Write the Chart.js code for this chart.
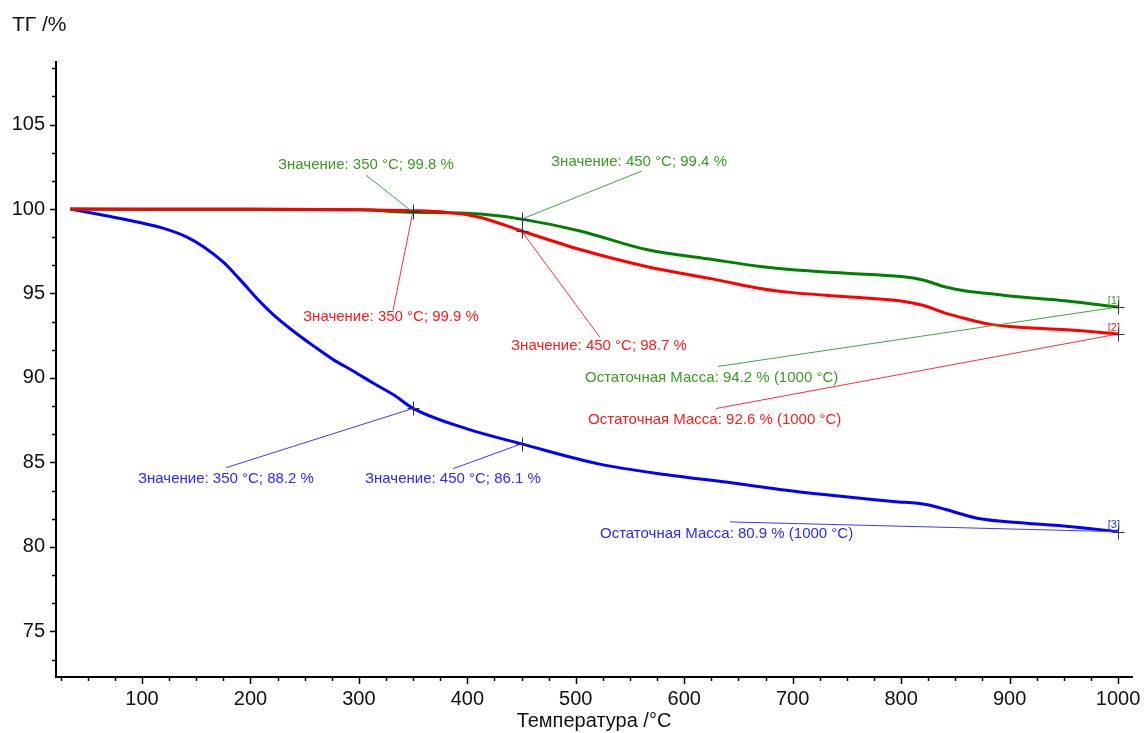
<!DOCTYPE html>
<html lang="ru">
<head>
<meta charset="utf-8">
<title>ТГ /%</title>
<script src="https://cdn.jsdelivr.net/npm/chart.js@4.4.1/dist/chart.umd.min.js"></script>
<style>
    html, body { margin: 0; padding: 0; background: #fff; }
    canvas { display: block; }
</style>
</head>
<body>
<canvas id="tgChart" width="1145" height="733"></canvas>
<script>
// TG curves: temperature (°C) and remaining mass (%) for each sample
const tempGreen = [34, 100, 200, 300, 350, 380, 412, 450, 504, 565, 627, 670, 700, 750, 800, 820, 840, 860, 880, 900, 953, 1000];
const massGreen = [100, 99.97, 99.97, 99.95, 99.8, 99.78, 99.7, 99.4, 98.7, 97.6, 97.0, 96.6, 96.4, 96.2, 96.0, 95.8, 95.4, 95.15, 95.0, 94.85, 94.56, 94.2];

const tempRed = [34, 100, 200, 300, 350, 381, 412, 450, 504, 565, 627, 670, 700, 750, 800, 820, 840, 860, 880, 900, 953, 1000];
const massRed = [100, 100, 100, 99.95, 99.9, 99.8, 99.5, 98.7, 97.6, 96.6, 95.85, 95.3, 95.05, 94.8, 94.55, 94.3, 93.85, 93.5, 93.2, 93.05, 92.85, 92.6];

const tempBlue = [34, 67, 98, 120, 141, 157, 175, 190, 206, 221, 240, 258, 276, 295, 313, 332, 350, 399, 450, 522, 584, 645, 688, 731, 793, 824, 842, 870, 916, 962, 1000];
const massBlue = [100, 99.6, 99.2, 98.85, 98.35, 97.75, 96.85, 95.85, 94.7, 93.75, 92.75, 91.9, 91.1, 90.4, 89.7, 89.0, 88.2, 87.0, 86.1, 84.9, 84.27, 83.78, 83.4, 83.08, 82.69, 82.5, 82.2, 81.7, 81.4, 81.17, 80.9];

// marked points: 350 °C, 450 °C and residual mass at 1000 °C
const markTemps = [350, 450, 1000];
const markGreen = [99.8, 99.4, 94.2];
const markRed = [99.9, 98.7, 92.6];
const markBlue = [88.2, 86.1, 80.9];

// axis ticks
const xTicks = [];
for (let t = 25; t <= 1000; t += 25) xTicks.push(t);
const xLabels = [100, 200, 300, 400, 500, 600, 700, 800, 900, 1000];
const yTicks = [];
for (let k = 44; k <= 65; k++) yTicks.push(+(k * 5 / 3).toFixed(3));
const yLabels = [75, 80, 85, 90, 95, 100, 105];

const FONT = '"Liberation Sans", Arial, sans-serif';

// where each note sits: [text x, text y, leader x, leader y] in axis units
const series = [
    {
        marks: markGreen, tag: '[1]', line: '#008000', text: '#3b9a22', leader: '#3fa53f',
        place: [[225.4, 102.6, 306.6, 102.0], [477.2, 102.8, 561, 102.25], [508.5, 90.03, 631.2, 90.68]]
    },
    {
        marks: markRed, tag: '[2]', line: '#ff0000', text: '#ff1a1a', leader: '#ff3030',
        place: [[248.5, 93.6, 331.5, 94.0], [440.3, 91.87, 522.3, 92.4], [511.3, 87.54, 629.3, 88.19]]
    },
    {
        marks: markBlue, tag: '[3]', line: '#0000ff', text: '#2a2aff', leader: '#3a3aff',
        place: [[96.3, 84.04, 177.5, 84.69], [305.6, 84.04, 386.8, 84.63], [522.3, 80.77, 642.2, 81.48]]
    }
];

function noteText(i, v) {
    if (markTemps[i] === 1000) return 'Остаточная Масса: ' + v.toFixed(1) + ' % (1000 °C)';
    return 'Значение: ' + markTemps[i] + ' °C; ' + v.toFixed(1) + ' %';
}

function toPoints(xs, ys) {
    return xs.map((x, i) => ({ x: x, y: ys[i] }));
}

// notes, leader lines, crosses and tick marks
const notesPlugin = {
    id: 'notes',
    afterDatasetsDraw(chart) {
        const ctx = chart.ctx;
        const xs = chart.scales.x;
        const ys = chart.scales.y;
        ctx.save();
        ctx.textBaseline = 'middle';
        series.forEach(s => {
            s.marks.forEach((v, i) => {
                const px = xs.getPixelForValue(markTemps[i]);
                const py = ys.getPixelForValue(v);
                const p = s.place[i];
                ctx.strokeStyle = s.leader;
                ctx.lineWidth = 1;
                ctx.beginPath();
                ctx.moveTo(xs.getPixelForValue(p[2]), ys.getPixelForValue(p[3]));
                ctx.lineTo(px, py);
                ctx.stroke();
                ctx.font = '15px ' + FONT;
                ctx.fillStyle = s.text;
                ctx.textAlign = 'left';
                ctx.textBaseline = 'middle';
                ctx.fillText(noteText(i, v), xs.getPixelForValue(p[0]), ys.getPixelForValue(p[1]));
            });
            // sample number next to the last point
            const ex = xs.getPixelForValue(markTemps[2]);
            const ey = ys.getPixelForValue(s.marks[2]);
            ctx.font = '11px ' + FONT;
            ctx.textAlign = 'right';
            ctx.textBaseline = 'bottom';
            ctx.fillStyle = s.text;
            ctx.fillText(s.tag, ex + 2, ey - 1);
        });
        // crosses on marked points
        ctx.strokeStyle = '#333';
        ctx.lineWidth = 1;
        series.forEach(s => {
            s.marks.forEach((v, i) => {
                const px = Math.round(xs.getPixelForValue(markTemps[i])) + 0.5;
                const py = Math.round(ys.getPixelForValue(v)) + 0.5;
                ctx.beginPath();
                ctx.moveTo(px - 6, py);
                ctx.lineTo(px + 6, py);
                ctx.moveTo(px, py - 7);
                ctx.lineTo(px, py + 7);
                ctx.stroke();
            });
        });
        ctx.restore();
    },
    afterDraw(chart) {
        const ctx = chart.ctx;
        const xs = chart.scales.x;
        const ys = chart.scales.y;
        const area = chart.chartArea;
        ctx.save();
        ctx.strokeStyle = '#000';
        ctx.lineWidth = 1.5;
        ctx.beginPath();
        xTicks.forEach(t => {
            const px = Math.round(xs.getPixelForValue(t)) + 0.5;
            const len = t % 100 === 0 ? 7 : 4;
            ctx.moveTo(px, area.bottom);
            ctx.lineTo(px, area.bottom + len);
        });
        yTicks.forEach(t => {
            const py = Math.round(ys.getPixelForValue(t)) + 0.5;
            if (py < area.top || py > area.bottom) return;
            const major = Math.abs(t / 5 - Math.round(t / 5)) < 1e-6;
            ctx.moveTo(area.left, py);
            ctx.lineTo(area.left - (major ? 6 : 4), py);
        });
        ctx.stroke();
        // axis name at the top left
        ctx.fillStyle = '#111';
        ctx.font = '21px ' + FONT;
        ctx.textAlign = 'left';
        ctx.textBaseline = 'middle';
        ctx.fillText('ТГ /%', 12, 25);
        ctx.restore();
    }
};

const ctx = document.getElementById('tgChart').getContext('2d');
new Chart(ctx, {
    type: 'line',
    data: {
        datasets: [
            { data: toPoints(tempGreen, massGreen), borderColor: '#008000', order: 1 },
            { data: toPoints(tempRed, massRed), borderColor: '#ff0000', order: 0 },
            { data: toPoints(tempBlue, massBlue), borderColor: '#0000ff', order: 2 }
        ]
    },
    options: {
        responsive: false,
        animation: false,
        layout: { padding: { top: 62, right: 13, left: 0, bottom: 0 } },
        elements: {
            line: { borderWidth: 3, cubicInterpolationMode: 'monotone', fill: false },
            point: { radius: 0 }
        },
        plugins: {
            legend: { display: false },
            tooltip: { enabled: false }
        },
        scales: {
            x: {
                type: 'linear',
                min: 20.7,
                max: 1012.9,
                grid: { display: false },
                border: { display: true, color: '#000', width: 2 },
                afterBuildTicks: scale => { scale.ticks = xLabels.map(v => ({ value: v })); },
                afterFit: scale => {
                    scale.height = 56;
                    scale.paddingLeft = 0;
                    scale.paddingRight = 0;
                },
                ticks: {
                    autoSkip: false,
                    maxRotation: 0,
                    padding: 2,
                    color: '#111',
                    font: { family: FONT, size: 20 },
                    callback: v => String(v)
                },
                title: {
                    display: true,
                    text: 'Температура /°C',
                    color: '#111',
                    padding: 0,
                    font: { family: FONT, size: 20 }
                }
            },
            y: {
                min: 72.3,
                max: 108.7,
                grid: { display: false },
                border: { display: true, color: '#000', width: 2 },
                afterBuildTicks: scale => { scale.ticks = yLabels.map(v => ({ value: v })); },
                afterFit: scale => {
                    scale.width = 56;
                    scale.paddingTop = 0;
                    scale.paddingBottom = 0;
                },
                ticks: {
                    padding: 3,
                    color: '#111',
                    font: { family: FONT, size: 20 }
                }
            }
        }
    },
    plugins: [notesPlugin]
});
</script>
</body>
</html>
